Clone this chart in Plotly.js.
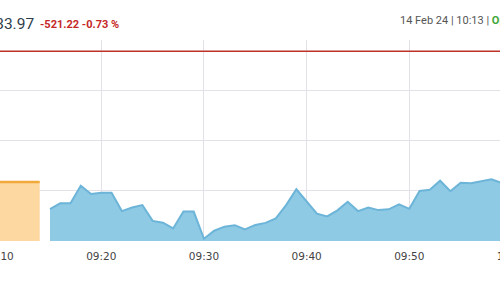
<!DOCTYPE html>
<html>
<head>
<meta charset="utf-8">
<script src="https://cdn.plot.ly/plotly-3.0.1.min.js"></script>
<style>
  html, body { margin: 0; padding: 0; width: 500px; height: 300px; overflow: hidden; background: #fff; }
  #chart { position: absolute; left: -40px; top: 0; width: 580px; height: 300px; }
</style>
</head>
<body>
<div id="chart"></div>
<script>
// ---- data ----
const sessionDate = '2024-02-14';
const times = ['09:15','09:16','09:17','09:18','09:19','09:20','09:21','09:22','09:23','09:24',
               '09:25','09:26','09:27','09:28','09:29','09:30','09:31','09:32','09:33','09:34',
               '09:35','09:36','09:37','09:38','09:39','09:40','09:41','09:42','09:43','09:44',
               '09:45','09:46','09:47','09:48','09:49','09:50','09:51','09:52','09:53','09:54',
               '09:55','09:56','09:57','09:58','09:59'];
const values = [70927, 70950, 70950, 71020, 70987, 70992, 70992, 70919, 70933, 70943,
                70880, 70873, 70850, 70917, 70917, 70809, 70841, 70857, 70863, 70846,
                70864, 70872, 70890, 70943, 71006, 70956, 70909, 70898, 70922, 70956,
                70919, 70933, 70923, 70926, 70946, 70928, 70999, 71004, 71040, 70998,
                71032, 71030, 71039, 71046, 71031];
const preOpenTimes = ['09:00', '09:14'];
const preOpenValues = [71035, 71035];
const prevClose = 71555.19;
const lastPrice = '71,033.97';
const change = '-521.22';
const changePct = '-0.73 %';
const stamp = '14 Feb 24 | 10:13 | ';
const status = 'Open';
const yTicks = [71000, 71200, 71400];
const yRange = [70800, 71600];

// ---- layout helpers (pixel geometry of the crop) ----
const divLeft = -40, divW = 580;
const pxPerMin = 10.267;
const x0910 = -1.37;              // screen x of 09:10
const base = Date.UTC(2024, 1, 14, 9, 10);
function fmt(ms) { return new Date(ms).toISOString().replace('T', ' ').replace('Z', ''); }
const xStart = fmt(base + ((divLeft - x0910) / pxPerMin) * 60000);
const xEnd = fmt(base + ((divLeft + divW - x0910) / pxPerMin) * 60000);
const px = s => (s - divLeft) / divW;
const py = s => (241 - s) / 201;

const full = t => sessionDate + ' ' + t;

const traces = [
  {
    x: preOpenTimes.map(full), y: preOpenValues, type: 'scatter', mode: 'lines',
    fill: 'tozeroy', fillcolor: '#fdd9a1',
    line: { color: '#f1a93a', width: 2.5 }, hoverinfo: 'skip'
  },
  {
    x: times.map(full), y: values, type: 'scatter', mode: 'lines',
    fill: 'tozeroy', fillcolor: '#8fcae5',
    line: { color: '#6cb4d8', width: 2 }, hoverinfo: 'skip'
  }
];

const layout = {
  width: divW, height: 300,
  margin: { l: 0, r: 0, t: 40, b: 59, pad: 0 },
  paper_bgcolor: '#ffffff', plot_bgcolor: '#ffffff',
  showlegend: false,
  xaxis: {
    type: 'date', range: [xStart, xEnd],
    tick0: sessionDate + ' 09:00', dtick: 600000, tickformat: '%H:%M',
    showgrid: true, gridcolor: '#e3e0e8', gridwidth: 1,
    zeroline: false, showline: false, ticks: '', ticklabelstandoff: 7,
    tickfont: { family: 'DejaVu Sans', size: 10.5, color: '#444' }
  },
  yaxis: {
    range: yRange, tickvals: yTicks, showticklabels: false,
    showgrid: true, gridcolor: '#e3e0e8', gridwidth: 1,
    zeroline: false, showline: false, ticks: ''
  },
  shapes: [
    { type: 'line', xref: 'paper', x0: 0, x1: 1, yref: 'y', y0: prevClose, y1: prevClose,
      line: { color: '#bb3328', width: 1.5 } }
  ],
  annotations: [
    { text: lastPrice, xref: 'paper', yref: 'paper', x: px(35.5), y: py(23.5),
      xanchor: 'right', yanchor: 'middle', showarrow: false,
      font: { family: 'Roboto', size: 15.5, color: '#2e3d4b' } },
    { text: '<b>' + change + ' ' + changePct + '</b>', xref: 'paper', yref: 'paper', x: px(37.5), y: py(24.5),
      xanchor: 'left', yanchor: 'middle', showarrow: false,
      font: { family: 'Roboto', size: 11, color: '#c62828' } },
    { text: stamp + '<b><span style="color:#3da83a">' + status + '</span></b>', xref: 'paper', yref: 'paper',
      x: px(397.5), y: py(20.5), xanchor: 'left', yanchor: 'middle', showarrow: false,
      font: { family: 'Roboto', size: 11, color: '#555' } }
  ]
};

Plotly.newPlot('chart', traces, layout, { staticPlot: true, displayModeBar: false });
</script>
</body>
</html>
